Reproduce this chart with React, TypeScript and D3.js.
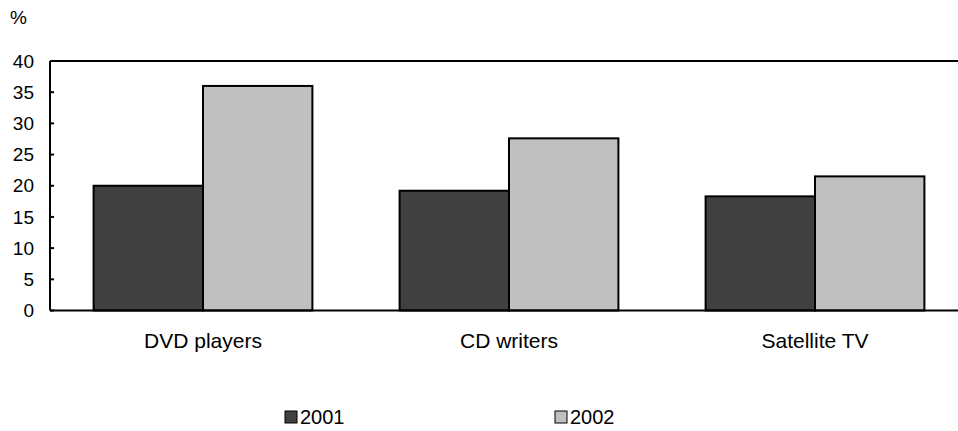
import React from "react";
import * as d3 from "d3";

const categories = ["DVD players", "CD writers", "Satellite TV"];
const seriesNames = ["2001", "2002"];
const values2001 = [20, 19.2, 18.3];
const values2002 = [36, 27.6, 21.5];
const yTicks = [0, 5, 10, 15, 20, 25, 30, 35, 40];
const colors = ["#404040", "#c0c0c0"];

export default function App() {
  const W = 958, H = 431;
  const left = 50, top = 61, bottom = 310.5;
  const step = 306;
  const x = d3.scaleBand<string>().domain(categories).range([left, left + step * 3]).paddingInner(0.285).paddingOuter(0.1425);
  const x1 = d3.scaleBand<string>().domain(seriesNames).range([0, x.bandwidth()]);
  const y = d3.scaleLinear().domain([0, 40]).range([bottom, top]);
  const series = [values2001, values2002];
  const font = "Liberation Sans, Arial, sans-serif";
  return (
    <svg width={W} height={H} style={{ position: "absolute", left: 0, top: 0, background: "#fff" }} fontFamily={font}>
      <text x={10} y={24} fontSize={19}>%</text>
      {categories.map((c, i) =>
        seriesNames.map((s, j) => (
          <rect key={c + s} x={x(c)! + x1(s)!} y={y(series[j][i])} width={x1.bandwidth()} height={y(0) - y(series[j][i])}
            fill={colors[j]} stroke="#000" strokeWidth={2} />
        ))
      )}
      <line x1={left} x2={W + 10} y1={top} y2={top} stroke="#000" strokeWidth={2} />
      <line x1={left} x2={W + 10} y1={bottom} y2={bottom} stroke="#000" strokeWidth={2} />
      <line x1={left} x2={left} y1={top} y2={bottom} stroke="#000" strokeWidth={2} />
      {yTicks.map(t => (
        <g key={t}>
          <line x1={left} x2={left + 4} y1={y(t)} y2={y(t)} stroke="#000" strokeWidth={2} />
          <text x={34} y={y(t)} dy="0.35em" textAnchor="end" fontSize={19}>{t}</text>
        </g>
      ))}
      {categories.map(c => (
        <text key={c} x={x(c)! + x.bandwidth() / 2} y={341} dy="0.35em" textAnchor="middle" fontSize={21}>{c}</text>
      ))}
      {seriesNames.map((s, j) => (
        <g key={s} transform={`translate(${285 + j * 270},411)`}>
          <rect x={0} y={0} width={12} height={12} fill={colors[j]} stroke="#000" strokeWidth={1} />
          <text x={15} y={6} dy="0.35em" fontSize={20}>{s}</text>
        </g>
      ))}
    </svg>
  );
}
